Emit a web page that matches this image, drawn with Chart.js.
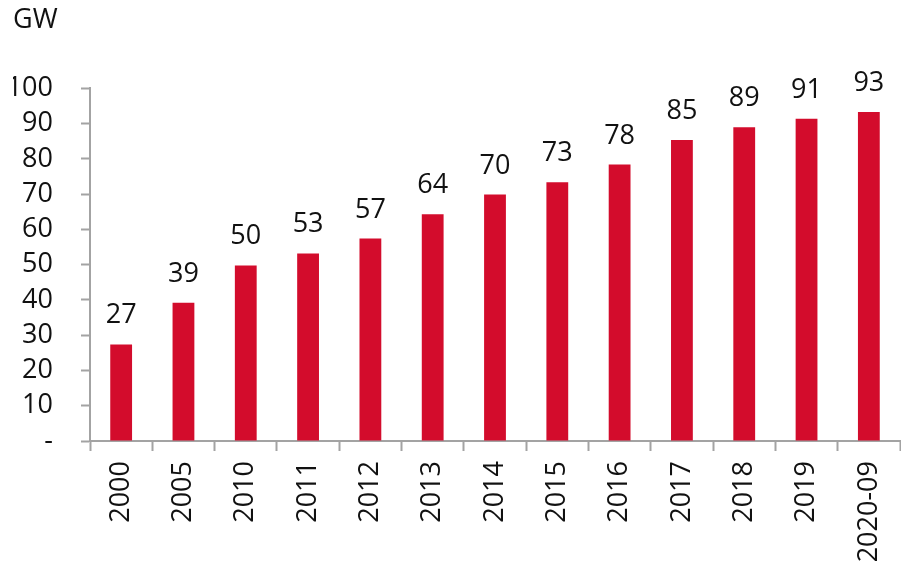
<!DOCTYPE html>
<html>
<head>
<meta charset="utf-8">
<script src="https://cdn.jsdelivr.net/npm/chart.js@4.4.1/dist/chart.umd.min.js"></script>
<style>
  html, body { margin: 0; padding: 0; background: #fff; }
  #wrap { width: 901px; height: 572px; }
</style>
</head>
<body>
<div id="wrap"><canvas id="bar-chart"></canvas></div>
<script>
// capacity, GW
var years = ['2000', '2005', '2010', '2011', '2012', '2013', '2014', '2015', '2016', '2017', '2018', '2019', '2020-09'];
var capacity = [27.4, 39.2, 49.8, 53.2, 57.4, 64.3, 69.9, 73.4, 78.4, 85.4, 89.0, 91.4, 93.3];
var yTicks = [0, 10, 20, 30, 40, 50, 60, 70, 80, 90, 100];

var textColor = '#111111';
var axisColor = '#a3a3a3';
var fontFamily = "'Open Sans', 'DejaVu Sans', sans-serif";
var fontSize = 27;

// values over the bars
var barLabels = {
    id: 'barLabels',
    afterDatasetsDraw: function(chart){
        var ctx = chart.ctx;
        var meta = chart.getDatasetMeta(0);
        ctx.save();
        ctx.fillStyle = textColor;
        ctx.font = fontSize + 'px ' + fontFamily;
        ctx.textAlign = 'center';
        ctx.textBaseline = 'alphabetic';
        meta.data.forEach(function(bar, i){
            ctx.fillText(Math.round(capacity[i]), bar.x, bar.y - 21);
        });
        ctx.restore();
    }
};

var ctx = document.getElementById('bar-chart').getContext('2d');
var myChart = new Chart(ctx, {
    type: 'bar',
    data: {
        labels: years,
        datasets: [{
            label: 'GW',
            data: capacity,
            backgroundColor: '#d30c2c',
            barPercentage: 0.35,
            categoryPercentage: 1
        }]
    },
    options: {
        responsive: true,
        maintainAspectRatio: false,
        animation: false,
        layout: { padding: { left: 13, right: 1, top: 4, bottom: 0 } },
        plugins: {
            legend: { display: false },
            tooltip: { enabled: false },
            title: {
                display: true,
                text: 'GW',
                align: 'start',
                color: textColor,
                font: { family: fontFamily, size: fontSize, weight: 'normal' },
                padding: { top: 0, bottom: 52 }
            }
        },
        scales: {
            x: {
                afterFit: function(scale){
                    scale.height = 131;
                    scale.paddingLeft = 0;
                    scale.paddingRight = 0;
                },
                grid: {
                    display: true,
                    offset: true,
                    drawOnChartArea: false,
                    drawTicks: true,
                    tickLength: 10,
                    tickWidth: 2,
                    color: axisColor
                },
                border: { display: true, color: axisColor, width: 2 },
                ticks: {
                    color: textColor,
                    font: { family: fontFamily, size: fontSize },
                    maxRotation: 90,
                    minRotation: 90,
                    padding: 10,
                    autoSkip: false
                }
            },
            y: {
                min: 0,
                max: 100,
                afterBuildTicks: function(scale){
                    scale.ticks = yTicks.map(function(v){ return { value: v }; });
                },
                afterFit: function(scale){
                    scale.width = 77;
                    scale.paddingTop = 0;
                    scale.paddingBottom = 0;
                },
                grid: {
                    display: true,
                    drawOnChartArea: false,
                    drawTicks: true,
                    tickLength: 9,
                    tickWidth: 2,
                    color: axisColor
                },
                border: { display: true, color: axisColor, width: 2 },
                ticks: {
                    color: textColor,
                    font: { family: fontFamily, size: fontSize },
                    padding: 28,
                    autoSkip: false,
                    callback: function(v){ return v === 0 ? '-' : v; }
                }
            }
        }
    },
    plugins: [barLabels]
});
</script>
</body>
</html>
